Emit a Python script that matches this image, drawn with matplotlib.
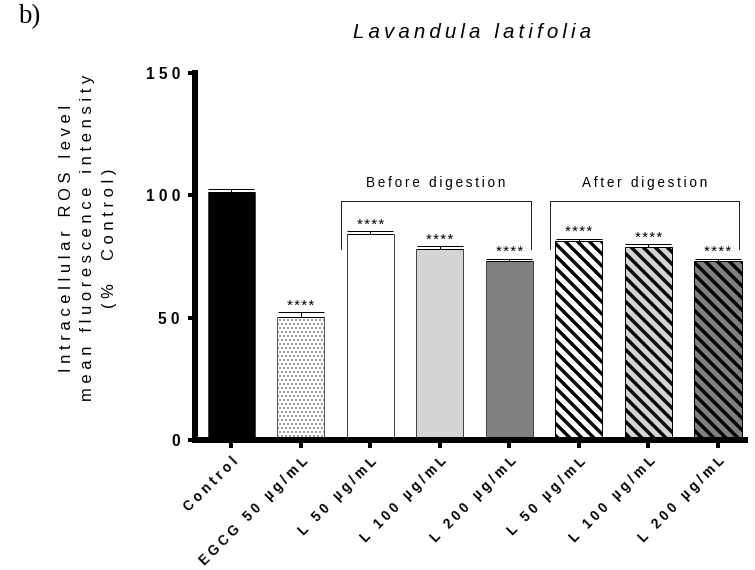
import matplotlib
matplotlib.use("Agg")
import matplotlib.pyplot as plt
import numpy as np

# ---------------- data ----------------
categories = ["Control", "EGCG 50 µg/mL", "L 50 µg/mL", "L 100 µg/mL", "L 200 µg/mL",
              "L 50 µg/mL", "L 100 µg/mL", "L 200 µg/mL"]
means = [101.2, 50.4, 84.2, 78.1, 73.1, 81.3, 79.0, 73.1]
errors = [1.4, 1.9, 1.1, 1.1, 0.9, 1.0, 1.1, 0.9]
stars = ["", "****", "****", "****", "****", "****", "****", "****"]
fill_colors = ["#000000", "#ffffff", "#ffffff", "#d4d4d4", "#808080",
               "#ffffff", "#d4d4d4", "#808080"]
hatches = [None, "...", None, None, None, "\\\\", "\\\\", "\\\\"]
groups = [("Before digestion", 2, 4), ("After digestion", 5, 7)]
yticks = [0, 50, 100, 150]
title = "Lavandula latifolia"
ylabel_lines = ["Intracellular ROS level", "mean fluorescence intensity", "(%  Control)"]

FAM = ["Liberation Sans", "DejaVu Sans"]
plt.rcParams["font.family"] = FAM


def spaced(s, sep=" "):
    return sep.join(list(s))


DPI = 72
fig = plt.figure(figsize=(755 / DPI, 570 / DPI), dpi=DPI)
ax = fig.add_axes([195 / 755, 1 - 440 / 570, 550 / 755, 367 / 570])

x = np.arange(len(categories))
width = 0.68
for i in range(len(categories)):
    h = hatches[i]
    if h == "...":
        ec, hlw = "#555555", 0.8
    elif h is not None:
        ec, hlw = "#000000", 3.4
    else:
        ec, hlw = "#444444", 1.0
    with plt.rc_context({"hatch.linewidth": hlw}):
        b = ax.bar(x[i], means[i], width=width, color=fill_colors[i], edgecolor=ec,
                   linewidth=1.0, hatch=h, zorder=2)
    for p in b.patches:
        if hasattr(p, "set_hatch_linewidth"):
            p.set_hatch_linewidth(hlw)

ax.errorbar(x, means, yerr=[np.zeros(len(x)), errors], fmt="none", ecolor="black",
            elinewidth=1.0, capsize=23, capthick=1.0, zorder=3)

for i in range(len(categories)):
    if stars[i]:
        ax.annotate(spaced(stars[i], "\u200a"), xy=(x[i], means[i] + errors[i]),
                    xytext=(0, 2.5), textcoords="offset points", ha="center",
                    va="baseline", fontsize=15, family=FAM)

# group brackets
for label, g0, g1 in groups:
    xl = g0 - width / 2 - 0.08
    xr = g1 + width / 2 - 0.03
    ytop, ybot = 97.7, 78.1
    ax.plot([xl, xl, xr, xr], [ybot, ytop, ytop, ybot], color="#222222", lw=1.0,
            zorder=4, clip_on=False)
    ax.text((xl + xr) / 2, 105.0, spaced(label, "\u2009"), ha="center", va="center",
            fontsize=13.5, family=FAM)

ax.set_xlim(-0.52, 7.39)
ax.set_ylim(0, 150)
ax.set_yticks(yticks)
ax.set_yticklabels([spaced(str(t)) for t in yticks], fontweight="bold", fontsize=15.5)
ax.set_xticks(x)
ax.set_xticklabels([spaced(c) for c in categories], rotation=45, ha="right",
                   rotation_mode="anchor", fontweight="bold", fontsize=13.5)

for s in ["top", "right"]:
    ax.spines[s].set_visible(False)
for s in ["left", "bottom"]:
    ax.spines[s].set_linewidth(6)
ax.tick_params(axis="y", length=7, width=4, pad=8)
ax.tick_params(axis="x", length=8, width=4, pad=6)

fig.text(88 / 755, 1 - 238 / 570, "\n".join(spaced(l) for l in ylabel_lines),
         rotation=90, ha="center", va="center", fontsize=16.5, linespacing=1.55,
         multialignment="center")

fig.text(472 / 755, 1 - 32 / 570, spaced(title, "\u2009"), ha="center", va="center",
         fontsize=20.5, style="italic", family=FAM)
fig.text(18 / 755, 1 - 17 / 570, "b)", ha="left", va="center", fontsize=27,
         family=["Liberation Serif", "DejaVu Serif"])

fig.savefig("out.png", dpi=DPI)
